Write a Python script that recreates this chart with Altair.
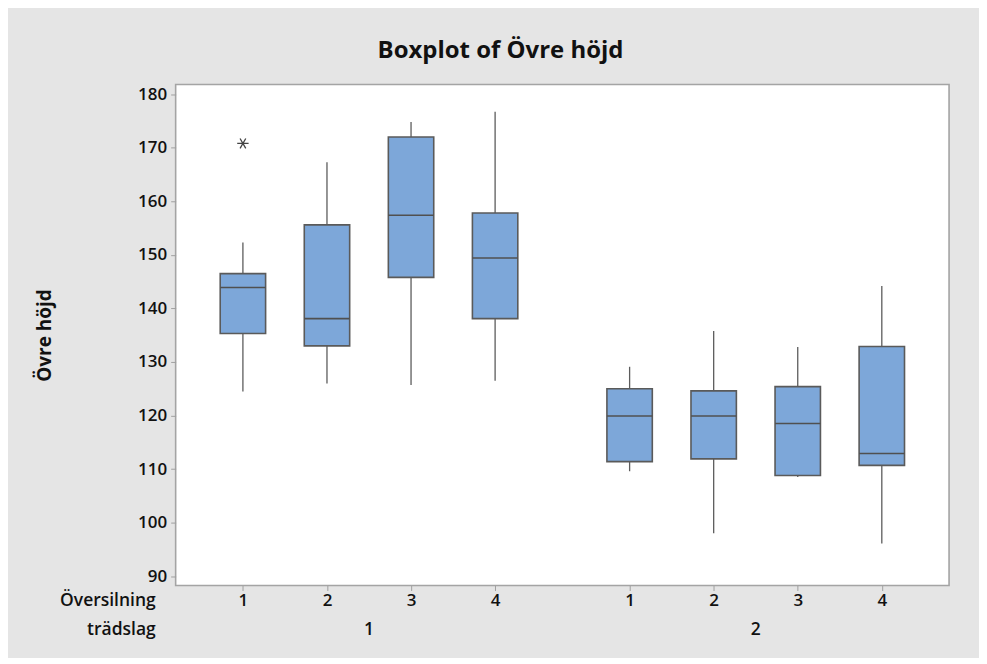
import altair as alt
import pandas as pd

# ---- data ----
tradslag = [1, 1, 1, 1, 2, 2, 2, 2]
oversilning = [1, 2, 3, 4, 1, 2, 3, 4]
whisker_low = [124.5, 126.0, 125.7, 126.5, 109.6, 98.0, 108.5, 96.1]
q1 = [135.3, 133.0, 145.8, 138.1, 111.4, 111.9, 108.8, 110.7]
median = [143.9, 138.1, 157.4, 149.4, 119.9, 119.9, 118.5, 112.9]
q3 = [146.5, 155.6, 172.0, 157.8, 125.0, 124.6, 125.4, 132.9]
whisker_high = [152.3, 167.3, 174.8, 176.7, 129.1, 135.8, 132.8, 144.2]
outlier_tradslag = [1]
outlier_oversilning = [1]
outlier_value = [170.8]
y_ticks = [90, 100, 110, 120, 130, 140, 150, 160, 170, 180]
row_names = ["Översilning", "trädslag"]

GROUP_STEP = 4.6   # group 2 starts 4.6 slots after group 1
HALF = 0.27        # half box width in slot units


def pos(t, o):
    return (o - 1) + (t - 1) * GROUP_STEP


df = pd.DataFrame({
    "tradslag": tradslag, "oversilning": oversilning,
    "lo": whisker_low, "q1": q1, "med": median, "q3": q3, "hi": whisker_high,
})
df["pos"] = [pos(t, o) for t, o in zip(tradslag, oversilning)]
df["left"] = df["pos"] - HALF
df["right"] = df["pos"] + HALF

out = pd.DataFrame({"tradslag": outlier_tradslag, "oversilning": outlier_oversilning,
                    "v": outlier_value})
out["pos"] = [pos(t, o) for t, o in zip(outlier_tradslag, outlier_oversilning)]

groups = pd.DataFrame({"label": ["1", "2"]})
groups["pos"] = [(pos(g, 1) + pos(g, 4)) / 2 for g in [1, 2]]

FONT = "Open Sans"
x_scale = alt.Scale(domain=[-0.8, 8.4], nice=False, zero=False)
y_scale = alt.Scale(domain=[88.27, 181.8], nice=False, zero=False)

x_axis = alt.Axis(
    values=list(df["pos"]),
    labelExpr="datum.value < 4 ? format(datum.value + 1, 'd') : format(round(datum.value - 4.6) + 1, 'd')",
    title=None, grid=False, domain=False, tickSize=5, tickColor="#a0a0a0",
    labelFontSize=17, labelFont=FONT, labelFontWeight=600, labelColor="#111111",
    labelPadding=2,
)
y_axis = alt.Axis(
    values=y_ticks, title="Övre höjd", grid=False, domain=False, tickSize=5,
    tickColor="#a0a0a0", labelFontSize=17, labelFont=FONT, labelFontWeight=600,
    labelColor="#111111", labelPadding=4,
    titleFont=FONT, titleFontSize=19, titleFontWeight="bold", titleColor="#111111",
    titleAngle=270, titleX=-131, titleY=251, titleAlign="center", titleBaseline="middle",
)

base = alt.Chart(df)

whisk_lo = base.mark_rule(color="#5c5c5c", strokeWidth=1.3).encode(
    x=alt.X("pos:Q", scale=x_scale, axis=x_axis),
    y=alt.Y("lo:Q", scale=y_scale, axis=y_axis),
    y2="q1:Q",
)
whisk_hi = base.mark_rule(color="#5c5c5c", strokeWidth=1.3).encode(
    x=alt.X("pos:Q", scale=x_scale), y=alt.Y("q3:Q", scale=y_scale), y2="hi:Q",
)
boxes = base.mark_rect(fill="#7da7d9", stroke="#5a5a5a", strokeWidth=1.6).encode(
    x=alt.X("left:Q", scale=x_scale), x2="right:Q",
    y=alt.Y("q1:Q", scale=y_scale), y2="q3:Q",
)
medians = base.mark_rule(color="#505050", strokeWidth=1.6).encode(
    x=alt.X("left:Q", scale=x_scale), x2="right:Q",
    y=alt.Y("med:Q", scale=y_scale),
)
outliers = alt.Chart(out).mark_point(
    shape="M-1,0L1,0M-0.5,-0.87L0.5,0.87M-0.5,0.87L0.5,-0.87",
    size=130, color="#444444", strokeWidth=1.3, filled=False, opacity=1,
).encode(x=alt.X("pos:Q", scale=x_scale), y=alt.Y("v:Q", scale=y_scale))

text_style = dict(font=FONT, fontSize=17.5, fontWeight=600, color="#111111", baseline="middle")
row1 = alt.Chart(pd.DataFrame({"t": [row_names[0]]})).mark_text(align="right", **text_style).encode(
    text="t:N", x=alt.value(-20), y=alt.value(518))
row2 = alt.Chart(pd.DataFrame({"t": [row_names[1]]})).mark_text(align="right", **text_style).encode(
    text="t:N", x=alt.value(-20), y=alt.value(547))

group_labels = alt.Chart(groups).mark_text(align="center", **text_style).encode(
    x=alt.X("pos:Q", scale=x_scale), y=alt.value(547), text="label:N")

chart = alt.layer(whisk_lo, whisk_hi, boxes, medians, outliers, row1, row2, group_labels).properties(
    width=775, height=502,
    title=alt.TitleParams("Boxplot of Övre höjd", font=FONT, fontSize=24, fontWeight="bold",
                          color="#111111", anchor="middle", dx=-62, offset=22),
    background="#e5e5e5",
    padding={"left": 168, "top": 76, "right": 30, "bottom": 72},
    autosize=alt.AutoSizeParams(type="none"),
).configure_view(stroke="#a4a4a4", strokeWidth=1.6, fill="white")

chart.save("out.html", embed_options={"renderer": "svg", "actions": False})
